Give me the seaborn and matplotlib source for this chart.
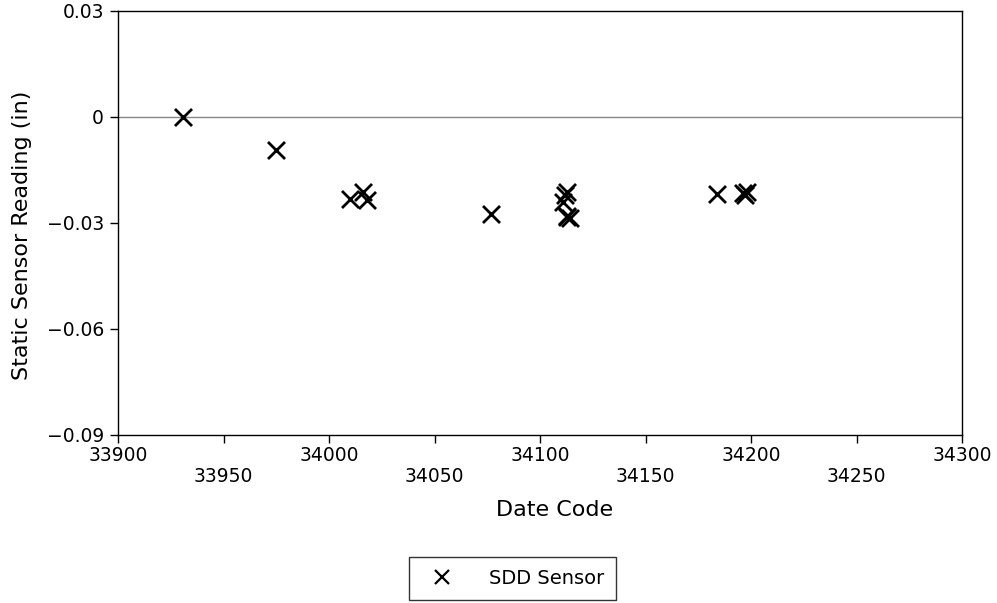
import matplotlib
matplotlib.use("Agg")
import matplotlib.pyplot as plt
import seaborn as sns
import pandas as pd
from matplotlib.lines import Line2D

date_code = [33931, 33975, 34010, 34016, 34018, 34077,
             34113, 34112, 34111, 34113, 34114, 34113,
             34184, 34198, 34197, 34196]
reading = [0.0, -0.0094, -0.0231, -0.0211, -0.0234, -0.0275,
           -0.0211, -0.0221, -0.0240, -0.0281, -0.0285, -0.0283,
           -0.0218, -0.0211, -0.0221, -0.0216]
series = ["SDD Sensor"] * len(date_code)

x_ticks = [33900, 33950, 34000, 34050, 34100, 34150, 34200, 34250, 34300]
y_ticks = [0.03, 0.0, -0.03, -0.06, -0.09]
y_tick_labels = ["0.03", "0", "\u22120.03", "\u22120.06", "\u22120.09"]

df = pd.DataFrame({"Date Code": date_code, "Reading": reading, "Series": series})

sns.set_theme(style="white")
plt.rcParams["font.family"] = ["DejaVu Sans"]
plt.rcParams["text.color"] = "black"

fig = plt.figure(figsize=(9.97, 6.03), dpi=100)
ax = fig.add_axes([118 / 997, 1 - 435 / 603, (962 - 118) / 997, (435 - 11) / 603])

sns.scatterplot(data=df, x="Date Code", y="Reading", marker="x", s=150,
                color="black", linewidth=2.0, ax=ax, legend=False)

ax.axhline(0, color="#888888", linewidth=1.0, zorder=0)

ax.set_xlim(33900, 34300)
ax.set_ylim(-0.09, 0.03)
ax.set_xticks(x_ticks)
ax.set_xticklabels([str(v) if i % 2 == 0 else "\n" + str(v) for i, v in enumerate(x_ticks)],
                   fontsize=13.5, linespacing=1.15)
ax.set_yticks(y_ticks)
ax.set_yticklabels(y_tick_labels, fontsize=13.5)
ax.tick_params(axis="both", direction="out", length=6, width=1, color="black",
               bottom=True, left=True, labelcolor="black")
ax.tick_params(axis="x", pad=2)
ax.tick_params(axis="y", pad=4)
for s in ax.spines.values():
    s.set_visible(True)
    s.set_color("black")
    s.set_linewidth(1.0)

ax.set_xlabel("Date Code", fontsize=16, color="black")
ax.set_ylabel("Static Sensor Reading (in)", fontsize=16, color="black")
ax.xaxis.set_label_coords(0.517, -0.153)
ax.yaxis.set_label_coords(-0.102, 0.47)

handle = Line2D([], [], marker="x", linestyle="none", color="black",
                markersize=10, markeredgewidth=1.6)
leg = fig.legend([handle], ["SDD Sensor"], loc="center",
                 bbox_to_anchor=(512.5 / 997, 1 - 578.5 / 603), frameon=True,
                 fancybox=False, edgecolor="black", fontsize=14,
                 borderpad=0.6, handletextpad=1.3, borderaxespad=0,
                 handlelength=2.2, labelcolor="black")
leg.get_frame().set_linewidth(1.0)

fig.savefig("out.png", dpi=100, facecolor="white")
